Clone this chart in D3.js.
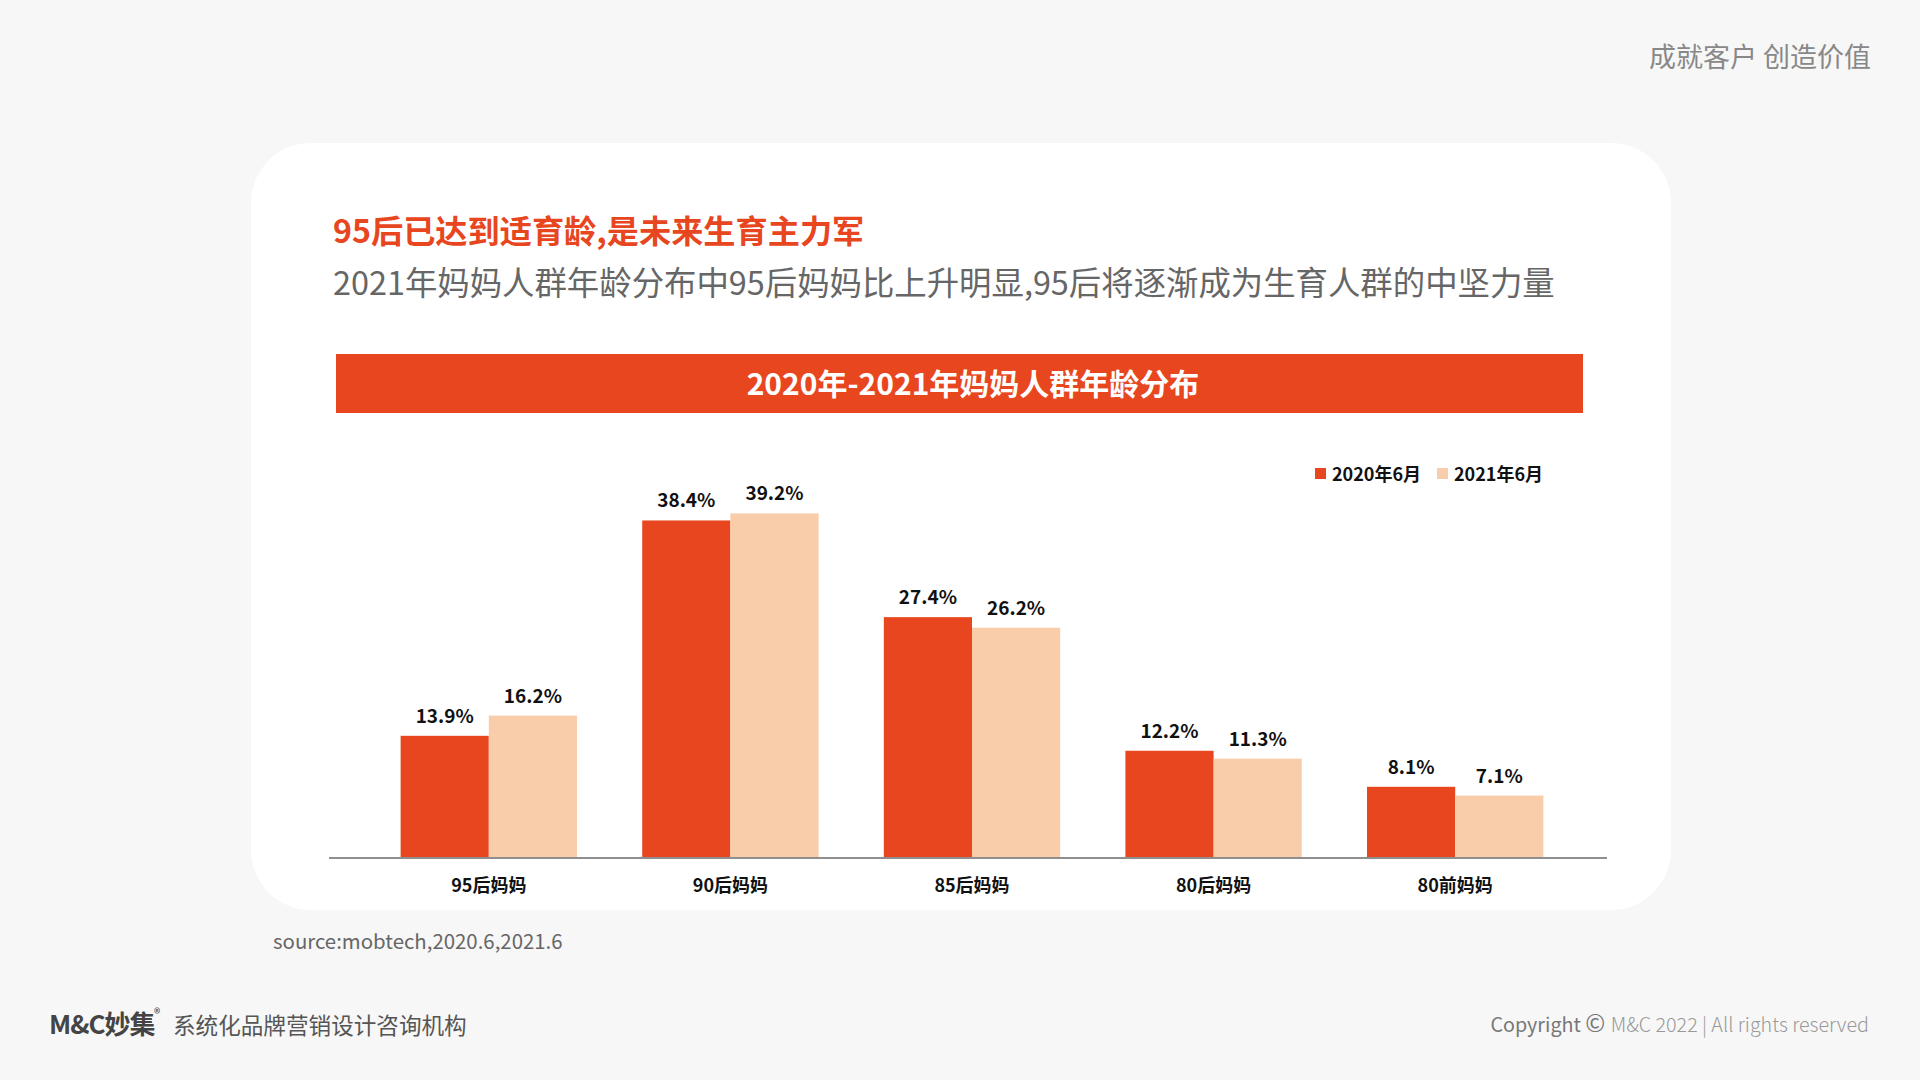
<!DOCTYPE html>
<html>
<head>
<meta charset="utf-8">
<script src="https://cdn.jsdelivr.net/npm/d3@7"></script>
<style>
  html, body { margin: 0; padding: 0; background: #f7f7f7; }
  svg { display: block; font-family: "Noto Sans CJK SC", "Noto Sans", sans-serif; }
</style>
</head>
<body>
<div id="chart"></div>
<script>
// chart data
const categories = ["95后妈妈", "90后妈妈", "85后妈妈", "80后妈妈", "80前妈妈"];
const seriesNames = ["2020年6月", "2021年6月"];
const values2020 = [13.9, 38.4, 27.4, 12.2, 8.1];
const values2021 = [16.2, 39.2, 26.2, 11.3, 7.1];

const width = 1920;
const height = 1080;
const red = "#e8461f";
const peach = "#f9cdaa";
const colors = [red, peach];

const svg = d3.select("#chart").append("svg")
    .attr("width", width)
    .attr("height", height)
    .attr("viewBox", [0, 0, width, height]);

svg.append("rect")
    .attr("width", width)
    .attr("height", height)
    .attr("fill", "#f7f7f7");

// slogan top right
svg.append("text")
    .attr("x", 1871)
    .attr("y", 67)
    .attr("text-anchor", "end")
    .attr("font-size", 27)
    .attr("fill", "#888")
    .text("成就客户 创造价值");

// white card
svg.append("rect")
    .attr("x", 251)
    .attr("y", 143)
    .attr("width", 1420)
    .attr("height", 767)
    .attr("rx", 60)
    .attr("fill", "#fff");

// headings
svg.append("text")
    .attr("x", 333)
    .attr("y", 243)
    .attr("font-size", 32.2)
    .attr("font-weight", "bold")
    .attr("fill", red)
    .text("95后已达到适育龄,是未来生育主力军");

svg.append("text")
    .attr("x", 333)
    .attr("y", 295)
    .attr("font-size", 32.4)
    .attr("fill", "#666")
    .text("2021年妈妈人群年龄分布中95后妈妈比上升明显,95后将逐渐成为生育人群的中坚力量");

// banner with chart title
svg.append("rect")
    .attr("x", 336)
    .attr("y", 354)
    .attr("width", 1247)
    .attr("height", 59)
    .attr("fill", red);

svg.append("text")
    .attr("x", 973)
    .attr("y", 395)
    .attr("text-anchor", "middle")
    .attr("font-size", 30)
    .attr("font-weight", "bold")
    .attr("fill", "#fff")
    .text("2020年-2021年妈妈人群年龄分布");

// scales
const x0 = d3.scaleBand()
    .domain(categories)
    .range([368, 1576])
    .paddingInner(0.27)
    .paddingOuter(0.135);

const x1 = d3.scaleBand()
    .domain(seriesNames)
    .range([0, x0.bandwidth()]);

const y = d3.scaleLinear()
    .domain([0, 40])
    .range([858, 506.4]);

const rows = categories.map((c, i) => ({
  category: c,
  values: [
    { key: seriesNames[0], value: values2020[i] },
    { key: seriesNames[1], value: values2021[i] }
  ]
}));

const groups = svg.append("g")
  .selectAll("g")
  .data(rows)
  .join("g")
    .attr("transform", d => `translate(${x0(d.category)},0)`);

groups.selectAll("rect")
  .data(d => d.values)
  .join("rect")
    .attr("x", d => x1(d.key))
    .attr("y", d => y(d.value))
    .attr("width", x1.bandwidth())
    .attr("height", d => y(0) - y(d.value))
    .attr("fill", (d, i) => colors[i]);

groups.selectAll("text")
  .data(d => d.values)
  .join("text")
    .attr("x", d => x1(d.key) + x1.bandwidth() / 2)
    .attr("y", d => y(d.value) - 13)
    .attr("text-anchor", "middle")
    .attr("font-size", 19)
    .attr("font-weight", "bold")
    .attr("fill", "#111")
    .text(d => d.value.toFixed(1) + "%");

// baseline
svg.append("line")
    .attr("x1", 329)
    .attr("x2", 1607)
    .attr("y1", y(0))
    .attr("y2", y(0))
    .attr("stroke", "#8f8f8f")
    .attr("stroke-width", 2);

// category labels
const xAxis = svg.append("g")
    .attr("transform", `translate(0,${y(0)})`)
    .call(d3.axisBottom(x0).tickSize(0).tickPadding(21));

xAxis.select(".domain").remove();
xAxis.selectAll("text")
    .attr("font-family", "\"Noto Sans CJK SC\", sans-serif")
    .attr("font-size", 18)
    .attr("font-weight", "bold")
    .attr("fill", "#111");

// legend
const legendX = [1315, 1437];
const legend = svg.append("g")
  .selectAll("g")
  .data(seriesNames)
  .join("g")
    .attr("transform", (d, i) => `translate(${legendX[i]},468)`);

legend.append("rect")
    .attr("width", 11)
    .attr("height", 11)
    .attr("fill", (d, i) => colors[i]);

legend.append("text")
    .attr("x", 17)
    .attr("y", 13)
    .attr("font-size", 18)
    .attr("font-weight", "bold")
    .attr("fill", "#111")
    .text(d => d);

// source note
svg.append("text")
    .attr("x", 273)
    .attr("y", 949)
    .attr("font-size", 20.4)
    .attr("fill", "#666")
    .text("source:mobtech,2020.6,2021.6");

// footer left
svg.append("text")
    .attr("x", 49)
    .attr("y", 1034)
    .attr("font-size", 26)
    .attr("font-weight", "bold")
    .attr("fill", "#444")
    .attr("letter-spacing", -1)
    .text("M&C妙集");

svg.append("text")
    .attr("x", 154)
    .attr("y", 1018)
    .attr("font-size", 13)
    .attr("fill", "#444")
    .text("®");

svg.append("text")
    .attr("x", 173)
    .attr("y", 1034)
    .attr("font-size", 22.6)
    .attr("fill", "#555")
    .text("系统化品牌营销设计咨询机构");

// footer right
const copy = svg.append("text")
    .attr("x", 1869)
    .attr("y", 1032)
    .attr("text-anchor", "end")
    .attr("font-size", 19.7);

copy.append("tspan")
    .attr("fill", "#777")
    .text("Copyright ");

copy.append("tspan")
    .attr("fill", "#777")
    .attr("font-size", 24)
    .text("© ");

copy.append("tspan")
    .attr("fill", "#999")
    .attr("font-weight", 300)
    .text("M&C 2022 | All rights reserved");
</script>
</body>
</html>
